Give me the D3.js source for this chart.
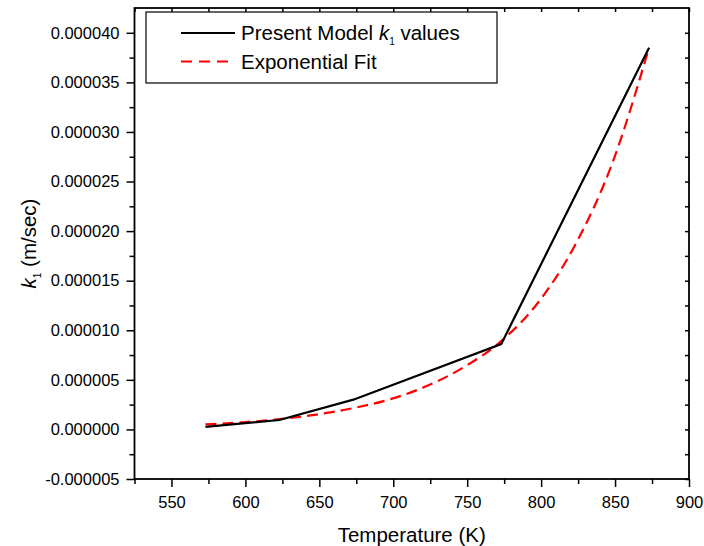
<!DOCTYPE html>
<html>
<head>
<meta charset="utf-8">
<script src="https://cdn.jsdelivr.net/npm/d3@7"></script>
<style>
  body { margin: 0; background: #fff; }
  text { font-family: 'Liberation Sans', Arial, sans-serif; }
</style>
</head>
<body>
<script>
// present model k1 values
var modelTemp = [573, 623, 673, 773, 873];
var modelK = [0.25e-6, 0.95e-6, 3.0e-6, 8.6e-6, 38.5e-6];

// exponential fit
var fitTemp = [573, 598, 623, 648, 673, 698, 723, 748, 773, 798, 823, 848, 873];
var fitK = [0.5e-6, 0.72e-6, 1.03e-6, 1.5e-6, 2.15e-6, 3.05e-6, 4.4e-6, 6.3e-6, 8.9e-6, 12.8e-6, 18.6e-6, 26.8e-6, 38.5e-6];

var xTicks = [550, 600, 650, 700, 750, 800, 850, 900];
var xMinor = [525, 575, 625, 675, 725, 775, 825, 875];
var yTicks = [-5e-6, 0, 5e-6, 10e-6, 15e-6, 20e-6, 25e-6, 30e-6, 35e-6, 40e-6];
var yMinor = [-2.5e-6, 2.5e-6, 7.5e-6, 12.5e-6, 17.5e-6, 22.5e-6, 27.5e-6, 32.5e-6, 37.5e-6];

var width = 704, height = 546;
var plotLeft = 134.5, plotRight = 689, plotTop = 8, plotBottom = 479;

var svg = d3.select('body').append('svg')
  .attr('width', width)
  .attr('height', height);

var x = d3.scaleLinear().domain([525, 900]).range([plotLeft, plotRight]);
var y = d3.scaleLinear().domain([-5e-6, 42.5e-6]).range([plotBottom, plotTop]);

var fmt = function(d) { return d3.format('.6f')(d).replace('−', '-'); };

// bottom axis, ticks outward
svg.append('g')
  .attr('transform', 'translate(0,' + plotBottom + ')')
  .call(d3.axisBottom(x).tickValues(xMinor).tickSize(5).tickFormat(''))
  .call(function(g) { g.select('.domain').remove(); });

svg.append('g')
  .attr('transform', 'translate(0,' + plotBottom + ')')
  .call(d3.axisBottom(x).tickValues(xTicks).tickSize(8).tickPadding(9).tickFormat(d3.format('d')))
  .call(function(g) { g.select('.domain').remove(); });

// left axis, ticks outward
svg.append('g')
  .attr('transform', 'translate(' + plotLeft + ',0)')
  .call(d3.axisLeft(y).tickValues(yMinor).tickSize(5).tickFormat(''))
  .call(function(g) { g.select('.domain').remove(); });

svg.append('g')
  .attr('transform', 'translate(' + plotLeft + ',0)')
  .call(d3.axisLeft(y).tickValues(yTicks).tickSize(8).tickPadding(7).tickFormat(fmt))
  .call(function(g) { g.select('.domain').remove(); });

// top and right, ticks inward, no labels
svg.append('g')
  .attr('transform', 'translate(0,' + plotTop + ')')
  .call(d3.axisBottom(x).tickValues(xTicks.concat(xMinor)).tickSize(4).tickFormat(''))
  .call(function(g) { g.select('.domain').remove(); });

svg.append('g')
  .attr('transform', 'translate(' + plotRight + ',0)')
  .call(d3.axisLeft(y).tickValues(yTicks.concat(yMinor)).tickSize(4).tickFormat(''))
  .call(function(g) { g.select('.domain').remove(); });

svg.selectAll('.tick line')
  .attr('stroke', '#000')
  .attr('stroke-width', 1.5);

svg.selectAll('.tick text')
  .attr('fill', '#000')
  .style('font-size', '16.5px');

// frame
svg.append('rect')
  .attr('x', plotLeft)
  .attr('y', plotTop)
  .attr('width', plotRight - plotLeft)
  .attr('height', plotBottom - plotTop)
  .attr('fill', 'none')
  .attr('stroke', '#000')
  .attr('stroke-width', 1.8);

var line = d3.line()
  .x(function(d) { return x(d[0]); })
  .y(function(d) { return y(d[1]); });

svg.append('path')
  .datum(fitTemp.map(function(t, i) { return [t, fitK[i]]; }))
  .attr('d', line.curve(d3.curveMonotoneX))
  .attr('fill', 'none')
  .attr('stroke', '#ff0000')
  .attr('stroke-width', 2.2)
  .attr('stroke-dasharray', '11,6');

svg.append('path')
  .datum(modelTemp.map(function(t, i) { return [t, modelK[i]]; }))
  .attr('d', line.curve(d3.curveLinear))
  .attr('fill', 'none')
  .attr('stroke', '#000')
  .attr('stroke-width', 2.2);

// axis titles
svg.append('text')
  .attr('x', (plotLeft + plotRight) / 2)
  .attr('y', 542)
  .attr('text-anchor', 'middle')
  .style('font-size', '20.5px')
  .text('Temperature (K)');

var yTitle = svg.append('text')
  .attr('transform', 'translate(36,' + ((plotTop + plotBottom) / 2) + ') rotate(-90)')
  .attr('text-anchor', 'middle')
  .style('font-size', '20.5px');
yTitle.append('tspan').style('font-style', 'italic').text('k');
yTitle.append('tspan').attr('dy', 5).style('font-size', '10px').text('1');
yTitle.append('tspan').attr('dy', -5).text(' (m/sec)');

// legend
var legend = svg.append('g');

legend.append('rect')
  .attr('x', 146)
  .attr('y', 12)
  .attr('width', 351)
  .attr('height', 71)
  .attr('fill', '#fff')
  .attr('stroke', '#000')
  .attr('stroke-width', 1.2);

legend.append('line')
  .attr('x1', 181).attr('x2', 235)
  .attr('y1', 33).attr('y2', 33)
  .attr('stroke', '#000')
  .attr('stroke-width', 2.2);

legend.append('line')
  .attr('x1', 181).attr('x2', 229)
  .attr('y1', 61.5).attr('y2', 61.5)
  .attr('stroke', '#ff0000')
  .attr('stroke-width', 2.2)
  .attr('stroke-dasharray', '11,7');

var label1 = legend.append('text')
  .attr('x', 241)
  .attr('y', 40)
  .style('font-size', '20.5px');
label1.append('tspan').text('Present Model ');
label1.append('tspan').style('font-style', 'italic').text('k');
label1.append('tspan').attr('dy', 5).style('font-size', '10px').text('1');
label1.append('tspan').attr('dy', -5).text(' values');

legend.append('text')
  .attr('x', 241)
  .attr('y', 69)
  .style('font-size', '20.5px')
  .text('Exponential Fit');
</script>
</body>
</html>
